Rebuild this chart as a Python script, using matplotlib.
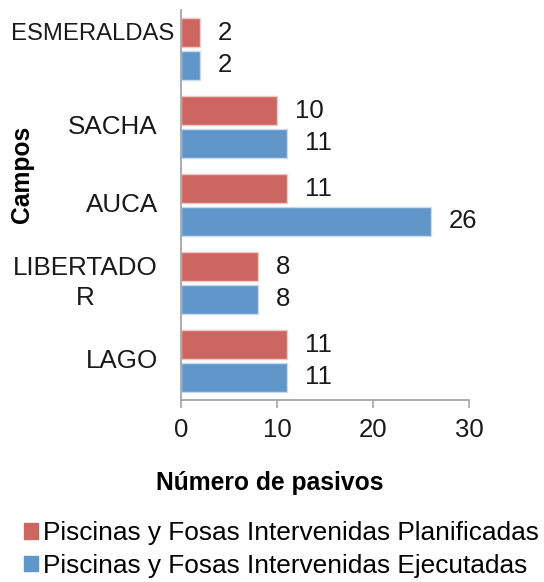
import matplotlib.pyplot as plt
from matplotlib.patches import Patch

# datos
campos = ['LAGO', 'LIBERTADO\nR', 'AUCA', 'SACHA', 'ESMERALDAS']
planificadas = [11, 8, 11, 10, 2]
ejecutadas = [11, 8, 26, 11, 2]
xticks = [0, 10, 20, 30]

ROJO = '#CD6661'
AZUL = '#6096CA'
GRIS = '#A6A6A6'
TXT = '#1a1a1a'

plt.rcParams['font.family'] = ['Liberation Sans', 'DejaVu Sans']

fig = plt.figure(figsize=(5.44, 5.82), dpi=100)
ax = fig.add_axes([0.3322, 0.3127, 0.5305, 0.6701])

y = list(range(len(campos)))
off = 0.21
h = 0.38
ypl = [v + off for v in y]
yej = [v - off for v in y]
b1 = ax.barh(ypl, planificadas, height=h, color=ROJO, edgecolor='#F0C8C6', linewidth=1)
b2 = ax.barh(yej, ejecutadas, height=h, color=AZUL, edgecolor='#C8DBEE', linewidth=1)

for barras in (b1, b2):
    for r in barras:
        w = r.get_width()
        ax.annotate(f'{w:g}', (w, r.get_y() + r.get_height() / 2),
                    xytext=(13, 0), textcoords='offset points',
                    ha='left', va='center', fontsize=18.5, color=TXT)

ax.set_xlim(0, 30)
ax.set_ylim(-0.5, len(campos) - 0.5)
ax.set_xticks(xticks)
ax.tick_params(axis='x', length=6, width=1.2, color=GRIS, labelsize=18.5,
               pad=7, labelcolor=TXT)
ax.set_yticks([])

for s in ('top', 'right'):
    ax.spines[s].set_visible(False)
for s in ('left', 'bottom'):
    ax.spines[s].set_color(GRIS)
    ax.spines[s].set_linewidth(1.3)

# etiquetas de categoría
for i, c in enumerate(campos):
    dx, dy, fs = -16.5, 0, 18.7
    if c == 'ESMERALDAS':
        dx, dy, fs = -5, 11, 17.2
    ax.annotate(c, (0, i), xycoords=('axes fraction', 'data'),
                xytext=(dx, dy), textcoords='offset points',
                ha='right', va='center', multialignment='center',
                fontsize=fs, color=TXT, linespacing=1.3)

fig.text(0.496, 0.170, 'Número de pasivos', ha='center', va='center',
         fontsize=17.7, fontweight='bold')
fig.text(0.04, 0.70, 'Campos', rotation=90, ha='center', va='center',
         fontsize=17.7, fontweight='bold')

handles = [Patch(color=ROJO), Patch(color=AZUL)]
fig.legend(handles, ['Piscinas y Fosas Intervenidas Planificadas',
                     'Piscinas y Fosas Intervenidas Ejecutadas'],
           loc='lower left', bbox_to_anchor=(0.032, -0.004), frameon=False,
           fontsize=18.9, handlelength=0.53, handleheight=0.53,
           handletextpad=0.2, labelspacing=0.32, borderaxespad=0.0,
           borderpad=0.25)

fig.savefig('out.png', dpi=100)
